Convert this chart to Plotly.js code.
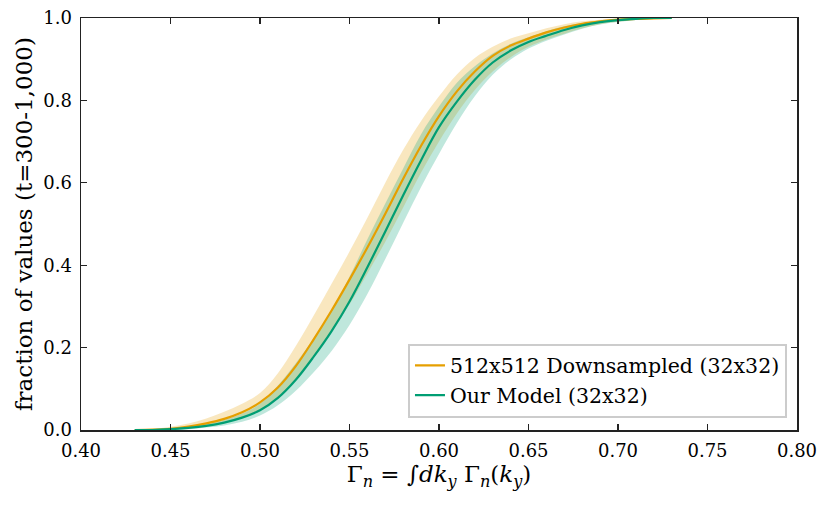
<!DOCTYPE html>
<html>
<head>
<meta charset="utf-8">
<script src="https://cdn.plot.ly/plotly-3.0.1.min.js"></script>
<style>html,body{margin:0;padding:0;background:#fff;}#chart{width:830px;height:513px;}</style>
</head>
<body>
<div id="chart"></div>
<script>
const gammaX = [0.43,0.44,0.45,0.46,0.47,0.48,0.49,0.50,0.51,0.52,0.53,0.54,0.55,0.56,0.57,0.58,0.59,0.60,0.61,0.62,0.63,0.64,0.65,0.66,0.67,0.68,0.69,0.70,0.71,0.72,0.73];

const downMean  = [0.000,0.001,0.003,0.008,0.016,0.027,0.043,0.067,0.103,0.155,0.220,0.290,0.365,0.443,0.525,0.610,0.690,0.762,0.822,0.870,0.908,0.933,0.950,0.965,0.977,0.986,0.992,0.996,0.998,0.999,1.000];
const downUpper = [0.001,0.003,0.008,0.016,0.028,0.044,0.064,0.090,0.138,0.204,0.278,0.355,0.433,0.515,0.600,0.680,0.750,0.810,0.863,0.903,0.930,0.950,0.963,0.975,0.985,0.992,0.996,0.998,0.999,1.000,1.000];
const downLower = [0.000,0.000,0.001,0.004,0.009,0.017,0.030,0.050,0.080,0.125,0.180,0.240,0.305,0.380,0.457,0.540,0.625,0.700,0.768,0.825,0.870,0.905,0.930,0.948,0.962,0.975,0.985,0.991,0.995,0.998,1.000];

const modelMean  = [0.000,0.000,0.002,0.005,0.010,0.018,0.030,0.048,0.078,0.122,0.178,0.240,0.312,0.395,0.482,0.570,0.655,0.735,0.797,0.850,0.892,0.921,0.942,0.957,0.971,0.982,0.990,0.995,0.998,1.000,1.000];
const modelUpper = [0.000,0.001,0.004,0.008,0.015,0.025,0.040,0.064,0.108,0.162,0.222,0.290,0.372,0.463,0.550,0.635,0.718,0.785,0.843,0.883,0.914,0.937,0.953,0.968,0.980,0.988,0.994,0.997,0.999,1.000,1.000];
const modelLower = [0.000,0.000,0.000,0.002,0.006,0.011,0.020,0.035,0.060,0.095,0.140,0.192,0.255,0.330,0.415,0.503,0.590,0.670,0.745,0.810,0.862,0.899,0.926,0.945,0.960,0.974,0.984,0.990,0.995,0.998,1.000];

const seriesNames = ["512x512 Downsampled (32x32)", "Our Model (32x32)"];
const xTicks = [0.40,0.45,0.50,0.55,0.60,0.65,0.70,0.75,0.80];
const yTicks = [0.0,0.2,0.4,0.6,0.8,1.0];

const orange = '#E69F00', green = '#009E73';
const orangeBand = 'rgba(230,159,0,0.25)', greenBand = 'rgba(0,158,115,0.25)';

function band(lower, upper, col, grp) {
  return [
    {x: gammaX, y: lower, mode: 'lines', line: {width: 0, shape: 'spline', smoothing: 1}, hoverinfo: 'skip', showlegend: false, legendgroup: grp},
    {x: gammaX, y: upper, mode: 'lines', line: {width: 0, shape: 'spline', smoothing: 1}, fill: 'tonexty', fillcolor: col, hoverinfo: 'skip', showlegend: false, legendgroup: grp}
  ];
}

const traces = [
  ...band(downLower, downUpper, orangeBand, 'a'),
  ...band(modelLower, modelUpper, greenBand, 'b'),
  {x: gammaX, y: downMean, mode: 'lines', name: seriesNames[0], line: {color: orange, width: 2.2, shape: 'spline', smoothing: 1}, legendgroup: 'a'},
  {x: gammaX, y: modelMean, mode: 'lines', name: seriesNames[1], line: {color: green, width: 2.2, shape: 'spline', smoothing: 1}, legendgroup: 'b'}
];

const font = {family: 'DejaVu Serif', size: 18, color: '#000'};
const layout = {
  width: 830, height: 513,
  margin: {l: 81, r: 33, t: 18, b: 83},
  paper_bgcolor: '#fff', plot_bgcolor: '#fff',
  font: font,
  showlegend: true,
  legend: {x: 0.986, y: 0.03, xanchor: 'right', yanchor: 'bottom', bgcolor: 'rgba(255,255,255,0.85)', bordercolor: '#cccccc', borderwidth: 2, font: {family: 'DejaVu Serif', size: 20.5, color: '#000'}, tracegroupgap: 0},
  xaxis: {
    range: [0.40, 0.80], tickvals: xTicks, ticktext: xTicks.map(v => v.toFixed(2)),
    ticks: 'inside', ticklen: 6, tickwidth: 1.3, tickcolor: '#222', mirror: 'ticks',
    showline: true, linecolor: '#222', linewidth: 1.5, showgrid: false, zeroline: false,
    tickfont: font, ticklabelstandoff: 4,
    title: {text: 'Γ<sub><i>n</i></sub> = ∫<i>dk</i><sub><i>y</i></sub> Γ<sub><i>n</i></sub>(<i>k</i><sub><i>y</i></sub>)', font: {family: 'DejaVu Serif', size: 23, color: '#000'}, standoff: 4}
  },
  yaxis: {
    range: [0, 1], tickvals: yTicks, ticktext: yTicks.map(v => v.toFixed(1)),
    ticks: 'inside', ticklen: 6, tickwidth: 1.3, tickcolor: '#222', mirror: 'ticks',
    showline: true, linecolor: '#222', linewidth: 1.5, showgrid: false, zeroline: false,
    tickfont: font, ticklabelstandoff: 4,
    title: {text: 'fraction of values (t=300-1,000)', font: {family: 'DejaVu Serif', size: 23, color: '#000'}, standoff: 4}
  }
};

Plotly.newPlot('chart', traces, layout, {displayModeBar: false, staticPlot: true});
</script>
</body>
</html>
